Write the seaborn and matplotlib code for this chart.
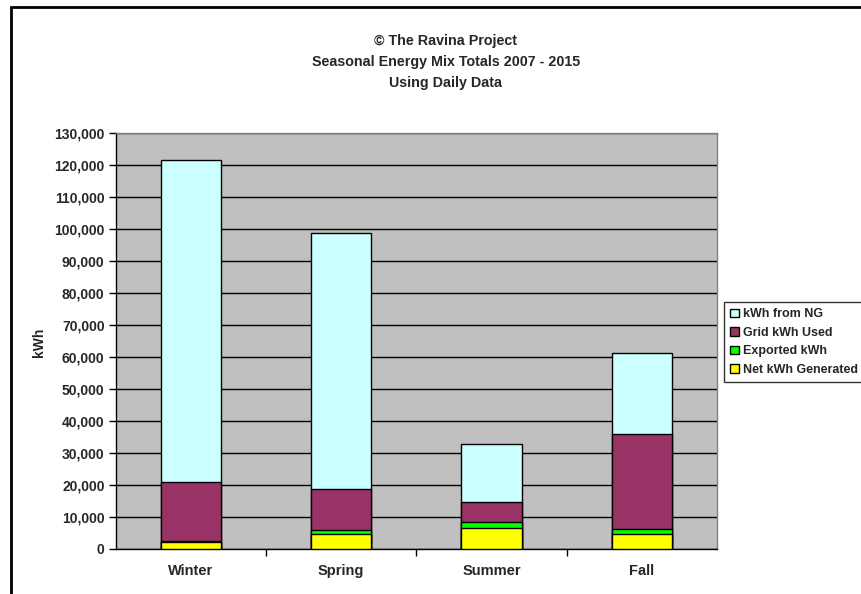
import numpy as np
import pandas as pd
import seaborn as sns
import matplotlib.pyplot as plt
from matplotlib.patches import Patch, Rectangle
from matplotlib.ticker import FuncFormatter, FixedLocator

# seasonal totals (kWh)
seasons = ["Winter", "Spring", "Summer", "Fall"]
net_generated = [2100, 4800, 6650, 4600]
exported = [400, 1050, 1900, 1550]
grid_used = [18500, 12900, 6050, 29900]
from_ng = [100600, 80100, 18300, 25100]

series_names = ["kWh from NG", "Grid kWh Used", "Exported kWh", "Net kWh Generated"]
colors = ["#CCFFFF", "#993366", "#00FF00", "#FFFF00"]

sns.set_style("white")
plt.rcParams["font.family"] = ["Liberation Sans", "DejaVu Sans"]
plt.rcParams["font.weight"] = "bold"

df = pd.DataFrame({"season": seasons, "net": net_generated, "exp": exported,
                   "grid": grid_used, "ng": from_ng})
# cumulative tops, drawn tallest first so lower layers sit on top
df["c_net"] = df["net"]
df["c_exp"] = df["c_net"] + df["exp"]
df["c_grid"] = df["c_exp"] + df["grid"]
df["c_ng"] = df["c_grid"] + df["ng"]

fig = plt.figure(figsize=(8.62, 5.94), dpi=100)
ax = fig.add_axes([115.7 / 862, 1 - 549 / 594, (717 - 115.7) / 862, (549 - 133) / 594])
ax.set_facecolor("#C0C0C0")

for col, c in zip(["c_ng", "c_grid", "c_exp", "c_net"], colors):
    sns.barplot(data=df, x="season", y=col, color=c, width=0.4, saturation=1,
                edgecolor="black", linewidth=1, ax=ax, zorder=3)

ax.set_xlim(-0.5, 3.5)
ax.set_ylim(0, 130000)
ax.set_yticks(np.arange(0, 130001, 10000))
ax.yaxis.set_major_formatter(FuncFormatter(lambda v, p: f"{int(v):,}"))
ax.grid(axis="y", color="black", linewidth=1, zorder=0)
ax.set_axisbelow(True)
ax.set_xlabel("")
ax.set_ylabel("")

ax.tick_params(axis="y", direction="out", length=5, width=1, color="black",
               labelsize=10, pad=3, left=True)
ax.tick_params(axis="x", which="major", length=0, labelsize=10.5, pad=11)
ax.xaxis.set_minor_locator(FixedLocator([0.5, 1.5, 2.5]))
ax.tick_params(axis="x", which="minor", direction="out", length=5, width=1,
               color="black", bottom=True)
for lab in ax.get_xticklabels() + ax.get_yticklabels():
    lab.set_fontweight("bold")

for side in ["top", "right"]:
    ax.spines[side].set_color("#808080")
    ax.spines[side].set_linewidth(1)
for side in ["left", "bottom"]:
    ax.spines[side].set_color("black")
    ax.spines[side].set_linewidth(1)

fig.text(39 / 862, 1 - 342 / 594, "kWh", rotation=90, ha="center", va="center",
         fontsize=10, fontweight="bold")

fig.text(446 / 862, 1 - 41 / 594, "© The Ravina Project", ha="center", va="center",
         fontsize=10.3, fontweight="bold")
fig.text(446 / 862, 1 - 62 / 594, "Seasonal Energy Mix Totals 2007 - 2015", ha="center",
         va="center", fontsize=10.3, fontweight="bold")
fig.text(446 / 862, 1 - 83 / 594, "Using Daily Data", ha="center", va="center",
         fontsize=10.3, fontweight="bold")

handles = [Patch(facecolor=c, edgecolor="black", linewidth=1) for c in colors]
leg = fig.legend(handles, series_names, loc="upper left",
                 bbox_to_anchor=(724 / 862, 1 - 302 / 594), frameon=True, fancybox=False,
                 fontsize=9, handlelength=0.7, handleheight=0.7, handletextpad=0.3,
                 labelspacing=0.52, borderpad=0.5, borderaxespad=0)
leg.get_frame().set_edgecolor("black")
leg.get_frame().set_linewidth(1)
for t in leg.get_texts():
    t.set_fontweight("bold")

# outer chart border (only top and left show in the crop)
fig.patches.append(Rectangle((11 / 862, -0.1), 1.2, 1.1 - 7 / 594, transform=fig.transFigure,
                             fill=False, edgecolor="black", linewidth=2))

fig.savefig("out.png", dpi=100)
